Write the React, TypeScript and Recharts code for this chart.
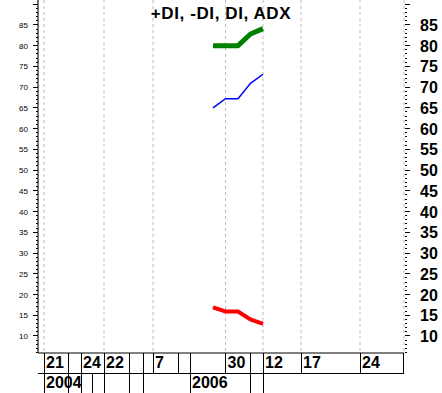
import { CartesianGrid, Line, LineChart, XAxis, YAxis } from "recharts";

// x values are week slots; one slot is one weekly bar
const slots = [14, 15, 16, 17, 18];
const adx = [80, 80, 80, 82.8, 84.1];
const plusDi = [65, 67.2, 67.2, 70.9, 73.1];
const minusDi = [16.9, 15.9, 15.9, 14.0, 12.9];

const dayTicks = [0.48, 2.4, 3.44, 5.28, 7.28, 8.4, 9.2, 11.2, 12.16, 15, 17, 18, 21.04, 25.76, 29.2];
const dayLabels = ["21", "", "24", "22", "", "", "7", "", "", "30", "", "12", "17", "24", ""];
const gridTicks = [0.48, 3.44, 5.28, 9.2, 15, 18, 21.04, 25.76];
const yearTicks = [0.48, 2.4, 3.44, 4.32, 5.28, 7.28, 8.4, 12.16, 17, 18];
const yearLabels = ["2004", "", "", "", "", "", "", "2006", "", ""];

const valueTicks = Array.from({ length: 85 }, (_, i) => i + 6);
const labelledMax = 85;

const FONT = "'Liberation Sans', Arial, sans-serif";

const data = slots.map((s, i) => ({
    slot: s,
    adx: adx[i],
    plusDi: plusDi[i],
    minusDi: minusDi[i],
}));

const bottomTicks = Array.from(new Set([...dayTicks, ...yearTicks])).sort((a, b) => a - b);

const LeftTick = (props: any) => {
    const { x, y, payload } = props;
    const v = payload.value;
    const major = v % 5 === 0;
    return (
        <g>
            <line x1={x - (major ? 5 : 2)} x2={x} y1={y} y2={y} stroke="#000" shapeRendering="crispEdges" />
            {major && v <= labelledMax && (
                <text x={x - 10} y={y + 3} textAnchor="end" fontSize={8} fontFamily={FONT} fill="#000">
                    {v}
                </text>
            )}
        </g>
    );
};

const RightTick = (props: any) => {
    const { x, y, payload } = props;
    const v = payload.value;
    const major = v % 5 === 0;
    return (
        <g>
            <line x1={x + 1} x2={x + (major ? 6 : 3)} y1={y} y2={y} stroke="#000" shapeRendering="crispEdges" />
            {major && v <= labelledMax && (
                <text x={x + 16} y={y + 6} fontSize={16} fontWeight="bold" fontFamily={FONT} fill="#000">
                    {v}
                </text>
            )}
        </g>
    );
};

// two boxed rows under the plot: days on top, years below
const DateTick = (props: any) => {
    const { x, y, payload } = props;
    const v = payload.value;
    const di = dayTicks.indexOf(v);
    const yi = yearTicks.indexOf(v);
    return (
        <g>
            {di >= 0 && <line x1={x} x2={x} y1={y} y2={y + 20} stroke="#000" shapeRendering="crispEdges" />}
            {di >= 0 && dayLabels[di] && (
                <text x={x + 2} y={y + 15} fontSize={16} fontWeight="bold" fontFamily={FONT} fill="#000">
                    {dayLabels[di]}
                </text>
            )}
            {yi >= 0 && <line x1={x} x2={x} y1={y + 20} y2={y + 40} stroke="#000" shapeRendering="crispEdges" />}
            {yi >= 0 && yearLabels[yi] && (
                <text x={x + 2} y={y + 34.5} fontSize={16} fontWeight="bold" fontFamily={FONT} fill="#000">
                    {yearLabels[yi]}
                </text>
            )}
        </g>
    );
};

export default function App() {
    const xDomain = [0, 29.28];
    const yDomain = [5.9, 91];
    return (
        <div style={{ position: "absolute", left: 0, top: 0, width: 442, height: 393, background: "#fff" }}>
            <LineChart width={442} height={393} data={data} margin={{ top: 0, right: 0, bottom: 0, left: 0 }}>
                <XAxis
                    xAxisId="day"
                    type="number"
                    dataKey="slot"
                    domain={xDomain}
                    ticks={bottomTicks}
                    interval={0}
                    height={40}
                    tickSize={0}
                    tickMargin={0}
                    tickLine={false}
                    axisLine={{ stroke: "#000" }}
                    tick={DateTick}
                    allowDataOverflow
                />
                <XAxis xAxisId="grid" type="number" dataKey="slot" domain={xDomain} ticks={gridTicks} hide allowDataOverflow />
                <YAxis
                    yAxisId="left"
                    orientation="left"
                    width={38}
                    domain={yDomain}
                    ticks={valueTicks}
                    interval={0}
                    tickSize={0}
                    tickMargin={0}
                    tickLine={false}
                    axisLine={{ stroke: "#000" }}
                    tick={LeftTick}
                    allowDataOverflow
                />
                <YAxis
                    yAxisId="right"
                    orientation="right"
                    width={38}
                    domain={yDomain}
                    ticks={valueTicks}
                    interval={0}
                    tickSize={0}
                    tickMargin={0}
                    tickLine={false}
                    axisLine={false}
                    tick={RightTick}
                    allowDataOverflow
                />
                <CartesianGrid xAxisId="grid" yAxisId="left" horizontal={false} stroke="#bbb" strokeDasharray="3 3" />
                <Line xAxisId="day" yAxisId="left" dataKey="minusDi" stroke="#ff0000" strokeWidth={4} dot={false} isAnimationActive={false} />
                <Line xAxisId="day" yAxisId="left" dataKey="plusDi" stroke="#0000ff" strokeWidth={1.5} dot={false} isAnimationActive={false} />
                <Line xAxisId="day" yAxisId="left" dataKey="adx" stroke="#008000" strokeWidth={5} dot={false} isAnimationActive={false} />
            </LineChart>
            {/* bottom border of the day row */}
            <div style={{ position: "absolute", left: 38, top: 373, width: 366, height: 1, background: "#000" }} />
            <div
                style={{
                    position: "absolute",
                    left: 0,
                    top: 5,
                    width: 442,
                    textAlign: "center",
                    fontFamily: FONT,
                    fontWeight: "bold",
                    fontSize: 17,
                    lineHeight: 1,
                    letterSpacing: 0.6,
                    color: "#000",
                }}
            >
                +DI, -DI, DI, ADX
            </div>
        </div>
    );
}
